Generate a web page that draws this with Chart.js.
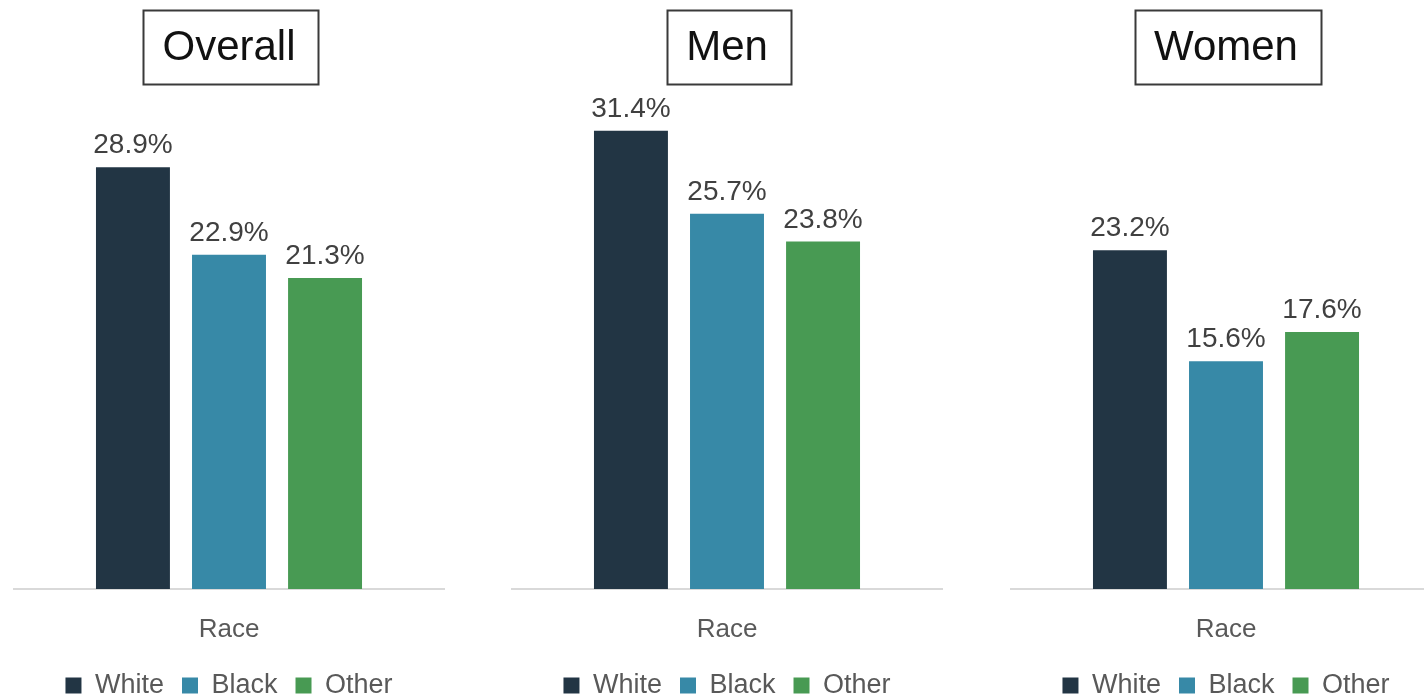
<!DOCTYPE html>
<html>
<head>
<meta charset="utf-8">
<script src="https://cdn.jsdelivr.net/npm/chart.js@4.4.1/dist/chart.umd.min.js"></script>
<style>
    body { margin: 0; width: 1424px; height: 695px; overflow: hidden; background: #fff; position: relative; }
    .panel { position: absolute; top: 0; width: 432px; height: 709px; }
</style>
</head>
<body>
<div class="panel" style="left:13px"><canvas id="chart0" width="432" height="709"></canvas></div>
<div class="panel" style="left:511px"><canvas id="chart1" width="432" height="709"></canvas></div>
<div class="panel" style="left:1010px"><canvas id="chart2" width="432" height="709"></canvas></div>
<script>
// data
const groups = ['Overall', 'Men', 'Women'];
const categories = ['Race'];
const seriesNames = ['White', 'Black', 'Other'];
const white = [28.9, 31.4, 23.2];
const black = [22.9, 25.7, 15.6];
const other = [21.3, 23.8, 17.6];

const colors = ['#223544', '#3789a7', '#489a53'];
const fontFamily = "'Liberation Sans', Arial, sans-serif";

Chart.defaults.font.family = fontFamily;

// box round the title
const titleBox = {
    id: 'titleBox',
    afterDraw(chart) {
        const tb = chart.titleBlock;
        const opts = chart.options.plugins.title;
        const ctx = chart.ctx;
        const size = opts.font.size;
        ctx.save();
        ctx.font = size + 'px ' + fontFamily;
        const w = ctx.measureText(opts.text).width;
        const cx = (tb.left + tb.right) / 2 + 2;
        const cy = tb.top + opts.padding.top + size * opts.font.lineHeight / 2;
        ctx.strokeStyle = '#3a3a3a';
        ctx.lineWidth = 2;
        ctx.strokeRect(Math.round(cx - w / 2 - 21) + 0.5, Math.round(cy - 38) + 0.5, Math.round(w + 42), 74);
        ctx.restore();
    }
};

// value labels above the bars
const valueLabels = {
    id: 'valueLabels',
    afterDatasetsDraw(chart) {
        const ctx = chart.ctx;
        ctx.save();
        ctx.font = '28px ' + fontFamily;
        ctx.fillStyle = '#404040';
        ctx.textAlign = 'center';
        ctx.textBaseline = 'alphabetic';
        chart.data.datasets.forEach(function (ds, i) {
            const meta = chart.getDatasetMeta(i);
            meta.data.forEach(function (bar, j) {
                ctx.fillText(ds.data[j].toFixed(1) + '%', bar.x, bar.y - 14);
            });
        });
        ctx.restore();
    }
};

function makeChart(index) {
    const values = [white[index], black[index], other[index]];
    const ctx = document.getElementById('chart' + index);
    return new Chart(ctx, {
        type: 'bar',
        data: {
            labels: categories,
            datasets: seriesNames.map(function (name, i) {
                return {
                    label: name,
                    data: [values[i]],
                    backgroundColor: colors[i],
                    borderWidth: 0,
                    categoryPercentage: 0.667,
                    barPercentage: 0.77
                };
            })
        },
        options: {
            responsive: false,
            animation: false,
            devicePixelRatio: 1,
            layout: { padding: 0 },
            scales: {
                x: {
                    grid: { display: false, drawTicks: false },
                    border: { display: true, color: '#d9d9d9', width: 2 },
                    ticks: {
                        color: '#595959',
                        padding: 18,
                        font: { size: 26, lineHeight: 46 / 26 }
                    },
                    afterFit: function (scale) {
                        scale.height = 65;
                    }
                },
                y: {
                    display: false,
                    min: 0,
                    max: 34.5
                }
            },
            plugins: {
                title: {
                    display: true,
                    text: groups[index],
                    color: '#111111',
                    font: { size: 42, weight: 'normal', lineHeight: 1.2 },
                    padding: { top: 23, bottom: 12 }
                },
                legend: {
                    position: 'bottom',
                    labels: {
                        boxWidth: 16,
                        boxHeight: 16,
                        padding: 18,
                        color: '#595959',
                        font: { size: 27 }
                    }
                },
                tooltip: { enabled: false }
            }
        },
        plugins: [titleBox, valueLabels]
    });
}

groups.forEach(function (g, i) {
    makeChart(i);
});
</script>
</body>
</html>
